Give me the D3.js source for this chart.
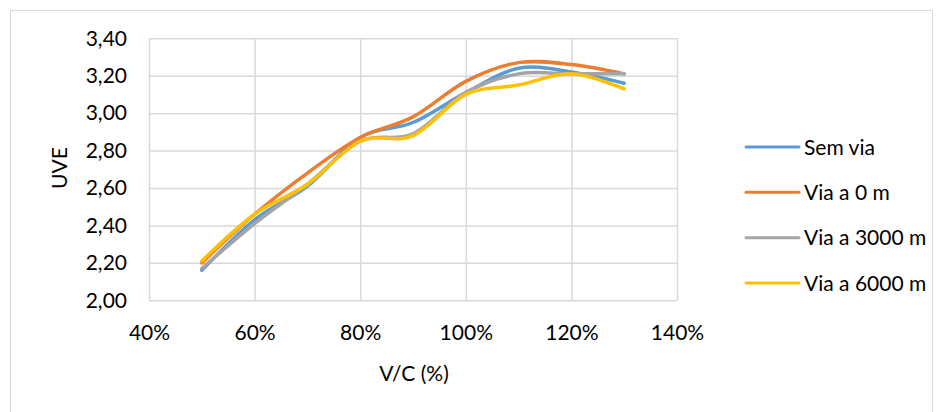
<!DOCTYPE html>
<html>
<head>
<meta charset="utf-8">
<script src="https://cdn.jsdelivr.net/npm/d3@7"></script>
<style>
  html, body { margin: 0; padding: 0; background: #fff; }
  svg { display: block; font-family: Lato, "Open Sans", sans-serif; }
</style>
</head>
<body>
<svg id="chart" width="943" height="412"></svg>
<script>
// V/C ratio (fraction) at which each series was sampled
const vcRatios = [0.5, 0.6, 0.7, 0.8, 0.9, 1.0, 1.1, 1.2, 1.3];

// UVE per scenario
const semVia     = [2.16, 2.43, 2.61, 2.87, 2.95, 3.11, 3.24, 3.22, 3.16];
const via0m      = [2.20, 2.46, 2.68, 2.87, 2.98, 3.17, 3.27, 3.26, 3.21];
const via3000m   = [2.17, 2.41, 2.62, 2.85, 2.89, 3.11, 3.21, 3.21, 3.21];
const via6000m   = [2.21, 2.46, 2.62, 2.85, 2.88, 3.10, 3.15, 3.21, 3.13];

const seriesNames  = ["Sem via", "Via a 0 m", "Via a 3000 m", "Via a 6000 m"];
const seriesColors = ["#5B9BD5", "#ED7D31", "#A5A5A5", "#FFC000"];
const seriesValues = [semVia, via0m, via3000m, via6000m];

const xTicks = [0.4, 0.6, 0.8, 1.0, 1.2, 1.4];
const yTicks = [2.0, 2.2, 2.4, 2.6, 2.8, 3.0, 3.2, 3.4];

const svg = d3.select("#chart");

// chart frame
svg.append("rect")
  .attr("x", 10.5).attr("y", 10.5)
  .attr("width", 922).attr("height", 420)
  .attr("fill", "none").attr("stroke", "#d9d9d9").attr("stroke-width", 1);

const plot = { left: 149, right: 677, top: 38.3, bottom: 300.3 };

const x = d3.scaleLinear().domain([0.4, 1.4]).range([plot.left, plot.right]);
const y = d3.scaleLinear().domain([2.0, 3.4]).range([plot.bottom, plot.top]);

const fmtY = v => d3.format(".2f")(v).replace(".", ",");
const fmtX = v => d3.format(".0%")(v);

// gridlines via axes
svg.append("g")
  .attr("transform", `translate(0,${plot.bottom})`)
  .call(d3.axisBottom(x).tickValues(xTicks).tickSize(-(plot.bottom - plot.top)).tickFormat(""))
  .call(g => g.select(".domain").remove())
  .call(g => g.selectAll("line").attr("stroke", "#d9d9d9").attr("stroke-width", 1.5));

svg.append("g")
  .attr("transform", `translate(${plot.left},0)`)
  .call(d3.axisLeft(y).tickValues(yTicks).tickSize(-(plot.right - plot.left)).tickFormat(""))
  .call(g => g.select(".domain").remove())
  .call(g => g.selectAll("line").attr("stroke", "#d9d9d9").attr("stroke-width", 1.5));

// tick labels
svg.append("g")
  .attr("transform", `translate(0,${plot.bottom})`)
  .call(d3.axisBottom(x).tickValues(xTicks).tickSize(0).tickPadding(25).tickFormat(fmtX))
  .call(g => g.select(".domain").remove())
  .call(g => g.selectAll("text")
    .attr("font-family", "Lato, sans-serif").attr("font-size", 21).attr("fill", "#000"));

svg.append("g")
  .attr("transform", `translate(${plot.left},0)`)
  .call(d3.axisLeft(y).tickValues(yTicks).tickSize(0).tickPadding(22).tickFormat(fmtY))
  .call(g => g.select(".domain").remove())
  .call(g => g.selectAll("text")
    .attr("font-family", "Lato, sans-serif").attr("font-size", 21).attr("fill", "#000"));

// axis titles
svg.append("text")
  .attr("x", 414).attr("y", 381)
  .attr("text-anchor", "middle")
  .attr("font-size", 21).attr("fill", "#000")
  .text("V/C (%)");

svg.append("text")
  .attr("transform", "translate(67,168) rotate(-90)")
  .attr("text-anchor", "middle")
  .attr("font-size", 21).attr("fill", "#000")
  .text("UVE");

// smoothed series lines
const line = d3.line()
  .x((d, i) => x(vcRatios[i]))
  .y(d => y(d))
  .curve(d3.curveCardinal.tension(0));

svg.append("g").selectAll("path")
  .data(seriesValues)
  .join("path")
  .attr("d", d => line(d))
  .attr("fill", "none")
  .attr("stroke", (d, i) => seriesColors[i])
  .attr("stroke-width", 3.5)
  .attr("stroke-linecap", "round")
  .attr("stroke-linejoin", "round");

// legend
const legend = svg.append("g");
const legendY = d3.scaleLinear().domain([0, 3]).range([147, 283]);
const items = legend.selectAll("g")
  .data(seriesNames)
  .join("g")
  .attr("transform", (d, i) => `translate(0,${legendY(i)})`);

items.append("line")
  .attr("x1", 746).attr("x2", 799)
  .attr("y1", 0).attr("y2", 0)
  .attr("stroke", (d, i) => seriesColors[i])
  .attr("stroke-width", 3)
  .attr("stroke-linecap", "round");

items.append("text")
  .attr("x", 804).attr("y", 0)
  .attr("dy", "0.36em")
  .attr("font-size", 21).attr("fill", "#000")
  .text(d => d);
</script>
</body>
</html>
